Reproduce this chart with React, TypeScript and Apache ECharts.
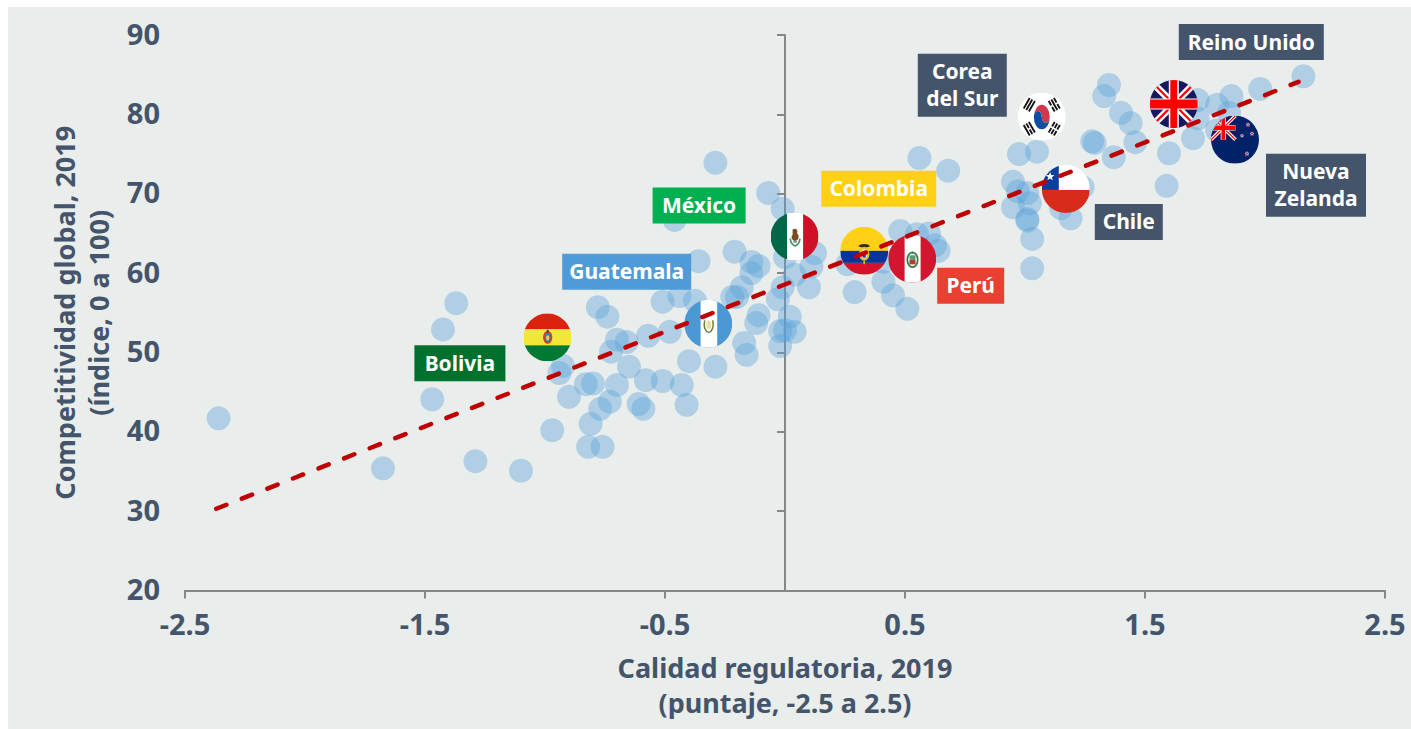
import React, { useEffect, useRef } from "react";
import * as echarts from "echarts";

const xTicks = [-2.5, -1.5, -0.5, 0.5, 1.5, 2.5];
const xTitle = "Calidad regulatoria, 2019\n(puntaje, -2.5 a 2.5)";
const yTitle = "Competitividad global, 2019\n(índice, 0 a 100)";

const countries: [number, number][] = [
  [2.16, 84.8], [1.98, 83.2], [1.86, 82.3], [1.8, 81.2], [1.72, 81.8], [1.85, 80.2], [1.35, 83.7], [1.33, 82.3],
  [1.4, 80.2], [1.44, 78.9], [1.46, 76.5], [1.28, 76.6], [1.29, 76.4], [1.37, 74.6], [1.6, 75.1], [1.59, 71.0],
  [1.7, 77.0], [1.8, 78.0], [1.72, 79.5], [0.975, 75.0], [1.05, 75.3], [0.95, 71.5], [0.97, 70.3], [1.01, 70.1],
  [1.02, 68.8], [0.95, 68.3], [1.01, 66.8], [1.01, 66.6], [1.03, 64.3], [1.03, 60.6], [1.24, 70.8], [1.19, 66.9],
  [1.15, 68.2], [-0.29, 73.9], [-0.07, 70.1], [-0.01, 68.1], [-0.46, 66.7], [0.68, 72.9], [0.56, 74.5], [-0.36, 61.5],
  [-0.21, 62.7], [-0.14, 61.4], [-0.11, 60.9], [-0.14, 60.0], [-0.18, 58.2], [-0.22, 57.0], [-0.2, 57.0], [-0.51, 56.4],
  [-0.44, 57.1], [-0.375, 56.5], [-0.57, 52.1], [-0.48, 52.6], [-0.11, 54.7], [-0.12, 53.7], [-0.03, 56.7], [-0.01, 58.2],
  [0.04, 59.8], [0.1, 58.2], [0.11, 60.8], [0.125, 62.5], [0.0, 62.0], [0.02, 54.5], [0.04, 52.6], [0.0, 52.8],
  [-0.02, 52.7], [-0.02, 50.8], [-0.17, 51.2], [-0.16, 49.7], [-0.4, 48.9], [-0.29, 48.2], [-0.58, 46.5], [-0.51, 46.4],
  [-0.43, 45.9], [0.26, 61.1], [0.29, 57.6], [0.41, 58.9], [0.45, 57.2], [0.51, 55.5], [0.48, 65.3], [0.55, 64.9],
  [0.6, 65.0], [0.625, 63.5], [0.64, 62.8], [0.41, 61.4], [-1.37, 56.2], [-1.425, 52.9], [-1.47, 44.1], [-1.29, 36.3],
  [-1.1, 35.1], [-0.97, 40.2], [-0.925, 48.3], [-0.94, 47.4], [-0.78, 55.7], [-0.74, 54.5], [-0.7, 51.6], [-0.66, 51.3],
  [-0.725, 50.1], [-0.65, 48.2], [-0.7, 45.9], [-0.83, 46.0], [-0.8, 46.1], [-0.9, 44.4], [-0.73, 43.8], [-0.77, 42.9],
  [-0.61, 43.5], [-0.59, 42.9], [-0.41, 43.4], [-0.81, 41.0], [-0.82, 38.1], [-0.76, 38.1], [-2.36, 41.7], [-1.675, 35.4],
];

const trend: [number, number][] = [[-2.37, 30.3], [2.14, 84.1]];

const highlightNames = ["Bolivia", "Guatemala", "México", "Colombia", "Perú", "Chile", "Corea\ndel Sur", "Reino Unido", "Nueva\nZelanda"];
const highlightX = [-0.99, -0.32, 0.04, 0.33, 0.53, 1.17, 1.07, 1.62, 1.875];
const highlightY = [51.9, 53.6, 64.6, 62.8, 61.8, 70.6, 79.7, 81.3, 76.8];

const INK = "#44546A";
const FONT = '"Noto Sans"';

// label boxes relative to each flag's centre: dx, dy, width, height, fill
const boxes: [number, number, number, number, string][] = [
  [-133, 8, 91, 36, "#00702F"],
  [-146, -70, 129, 36, "#4F9BD9"],
  [-142, -49, 93, 36, "#00B050"],
  [-43, -80, 115, 36, "#FFD016"],
  [25, 9, 67, 36, "#E84031"],
  [29, 15, 68, 36, INK],
  [-124, -63, 89, 63, INK],
  [5, -80, 145, 36, INK],
  [31, 14, 100, 63, INK],
];

const svgFlag = (inner: string) =>
  "image://data:image/svg+xml;charset=utf-8," +
  encodeURIComponent(
    `<svg xmlns="http://www.w3.org/2000/svg" width="48" height="48" viewBox="0 0 48 48"><defs><clipPath id="c"><circle cx="24" cy="24" r="24"/></clipPath></defs><g clip-path="url(#c)">${inner}</g></svg>`
  );

const jackFlag = (w: number, h: number) => {
  const cx = w / 2, cy = h / 2, k = w / 48;
  return `<rect width="${w}" height="${h}" fill="#15195F"/>` +
    `<path d="M0 0L${w} ${h}M${w} 0L0 ${h}" stroke="#fff" stroke-width="${7 * k}"/>` +
    `<path d="M0 0L${w} ${h}M${w} 0L0 ${h}" stroke="#f00" stroke-width="${2.2 * k}"/>` +
    `<path d="M${cx} 0V${h}" stroke="#fff" stroke-width="${10 * k}"/><path d="M0 ${cy}H${w}" stroke="#fff" stroke-width="${11 * k}"/>` +
    `<path d="M${cx} 0V${h}" stroke="#f00" stroke-width="${7 * k}"/><path d="M0 ${cy}H${w}" stroke="#f00" stroke-width="${9 * k}"/>`;
};

const star = (x: number, y: number, r: number, fill: string, stroke = "none") => {
  const p: string[] = [];
  for (let i = 0; i < 10; i++) {
    const rad = i % 2 ? r * 0.42 : r;
    const ang = -Math.PI / 2 + (i * Math.PI) / 5;
    p.push(`${(x + rad * Math.cos(ang)).toFixed(2)},${(y + rad * Math.sin(ang)).toFixed(2)}`);
  }
  return `<polygon points="${p.join(" ")}" fill="${fill}" stroke="${stroke}" stroke-width="0.5"/>`;
};

const trigram = (x: number, y: number, rot: number, gaps: boolean[]) =>
  `<g transform="translate(${x} ${y}) rotate(${rot})">` +
  gaps.map((g, i) => {
    const yy = -3 + i * 3;
    return g
      ? `<rect x="-6" y="${yy - 0.9}" width="5.2" height="1.8"/><rect x="0.8" y="${yy - 0.9}" width="5.2" height="1.8"/>`
      : `<rect x="-6" y="${yy - 0.9}" width="12" height="1.8"/>`;
  }).join("") + `</g>`;

const flags = [
  // Bolivia
  svgFlag(`<rect width="48" height="16" fill="#D9230F"/><rect y="16" width="48" height="16" fill="#F3E63B"/><rect y="32" width="48" height="16" fill="#007A33"/><ellipse cx="24.3" cy="24" rx="4.6" ry="6.4" fill="#C9432B"/><ellipse cx="24.3" cy="24" rx="3" ry="4.6" fill="#3B7FB8"/><ellipse cx="24.3" cy="24.5" rx="1.6" ry="2.6" fill="#E8D36A"/><path d="M24.3 16.5v3" stroke="#3A4A2C" stroke-width="2"/>`),
  // Guatemala
  svgFlag(`<rect width="48" height="48" fill="#4B98D3"/><rect x="16.4" width="16.6" height="48" fill="#fff"/><path d="M20.5 20.5C19 27 21 31.5 24.5 32.5C28 31.5 30 27 28.5 20.5" fill="none" stroke="#66803A" stroke-width="1.5"/><ellipse cx="24.5" cy="24.8" rx="2.4" ry="4.2" fill="#E9E0A0"/>`),
  // México
  svgFlag(`<rect width="16.5" height="48" fill="#006847"/><rect x="16.5" width="16" height="48" fill="#fff"/><rect x="32.5" width="15.5" height="48" fill="#CE1126"/><path d="M22 17C26 14.5 27.5 18 26.5 21C29.5 23 28 28 24.5 28.5C21 28 20 24 22 22.5z" fill="#7A4A22"/><path d="M19.6 26C20 31 23 33.3 24.5 33.3C26 33.3 29 31 29.4 26" fill="none" stroke="#4E8B57" stroke-width="1.6"/><rect x="22.7" y="28.5" width="3.6" height="1.6" fill="#5A8FB0"/>`),
  // Flag drawn for Colombia in the source
  svgFlag(`<rect width="48" height="24" fill="#FFD016"/><rect y="24" width="48" height="12" fill="#03369C"/><rect y="36" width="48" height="12" fill="#D6112C"/><path d="M18 19.5C20.5 16.5 27.5 16.5 30 19.5L24 21.5z" fill="#2C2A1C"/><ellipse cx="24" cy="27" rx="5.2" ry="7" fill="#E7C21E"/><ellipse cx="24" cy="27" rx="3" ry="4.8" fill="#E6EEF4"/><rect x="22.4" y="27" width="3.2" height="3.8" fill="#1B4FA0"/><path d="M24 34v3.5" stroke="#D9B81C" stroke-width="1.6"/>`),
  // Perú
  svgFlag(`<rect width="48" height="48" fill="#D2162F"/><rect x="16.4" width="16" height="48" fill="#fff"/><ellipse cx="24.3" cy="25" rx="5.2" ry="7.4" fill="none" stroke="#2F7B45" stroke-width="1.7"/><rect x="21.3" y="20.5" width="6" height="4.5" fill="#5A9A78"/><rect x="21.3" y="25" width="6" height="4.6" fill="#B83A2E"/><path d="M24.3 17v1.8" stroke="#2F7B45" stroke-width="1.7"/>`),
  // Chile
  svgFlag(`<rect width="48" height="25" fill="#fff"/><rect y="25" width="48" height="23" fill="#D92B1C"/><rect width="17" height="25" fill="#0A3FA0"/>${star(8.3, 11.7, 4.6, "#fff")}`),
  // Corea del Sur
  svgFlag(`<rect width="48" height="48" fill="#fff"/><g transform="translate(24 24) scale(0.95 1.45) translate(-24 -24)"><path d="M15.6 24.2A8.4 8.4 0 0 1 32.4 24.2A4.2 4.2 0 0 1 24 24.2A4.2 4.2 0 0 0 15.6 24.2z" fill="#CD3A4A"/><path d="M15.6 24.2A8.4 8.4 0 0 0 32.4 24.2A4.2 4.2 0 0 1 24 24.2A4.2 4.2 0 0 0 15.6 24.2z" fill="#0B4EA2"/></g><g fill="#111">${trigram(11.5, 12, -60, [false, false, false])}${trigram(36.5, 12, 60, [true, false, true])}${trigram(11.5, 36, 60, [false, true, false])}${trigram(36.5, 36, -60, [true, true, true])}</g>`),
  // Reino Unido
  svgFlag(jackFlag(48, 48)),
  // Nueva Zelanda
  svgFlag(`<rect width="48" height="48" fill="#012169"/>${jackFlag(24.5, 24)}${star(37, 9, 2, "#D2162F", "#fff")}${star(41, 18, 2, "#D2162F", "#fff")}${star(31, 20, 1.8, "#D2162F", "#fff")}${star(36, 38, 2.2, "#D2162F", "#fff")}`),
];

export default function App() {
  const ref = useRef<HTMLDivElement>(null);
  useEffect(() => {
    const chart = echarts.init(ref.current!, null, { renderer: "svg" });
    const axisLineStyle = { color: "#868686", width: 2 };
    chart.setOption({
      animation: false,
      backgroundColor: "#E9EDEC",
      grid: { left: 177, right: 26, top: 28, height: 555.5 },
      xAxis: {
        type: "value",
        min: -2.5,
        max: 2.5,
        interval: 0.5,
        splitLine: { show: false },
        axisLine: { onZero: false, lineStyle: axisLineStyle },
        axisTick: { show: true, length: 8, customValues: xTicks, lineStyle: axisLineStyle },
        axisLabel: {
          customValues: xTicks,
          formatter: (v: number) => v.toFixed(1),
          color: INK,
          fontFamily: FONT,
          fontWeight: "bold",
          fontSize: 29,
          margin: 18,
        },
        name: xTitle,
        nameLocation: "middle",
        nameGap: 59,
        nameTextStyle: { color: INK, fontFamily: FONT, fontWeight: "bold", fontSize: 27, lineHeight: 35 },
      },
      yAxis: [
        {
          type: "value",
          min: 20,
          max: 90,
          interval: 10,
          splitLine: { show: false },
          axisLine: { show: false, onZero: false },
          axisTick: { show: false },
          axisLabel: {
            formatter: "{t|{value}}",
            margin: 25,
            rich: {
              t: { color: INK, fontFamily: FONT, fontWeight: "bold", fontSize: 29, padding: [0, 0, 4, 0] },
            },
          },
          name: yTitle,
          nameLocation: "middle",
          nameRotate: 90,
          nameGap: 69,
          nameTextStyle: { color: INK, fontFamily: FONT, fontWeight: "bold", fontSize: 27, lineHeight: 34 },
        },
        {
          type: "value",
          min: 20,
          max: 90,
          interval: 10,
          position: "left",
          splitLine: { show: false },
          axisLine: { show: true, onZero: true, lineStyle: axisLineStyle },
          axisTick: { show: true, length: 8, lineStyle: axisLineStyle },
          axisLabel: { show: false },
        },
      ],
      series: [
        {
          type: "scatter",
          data: countries,
          symbolSize: 24,
          z: 2,
          silent: true,
          itemStyle: { color: "rgba(91,163,217,0.5)" },
        },
        {
          type: "scatter",
          data: highlightNames.map((_, i) => ({
            value: [highlightX[i], highlightY[i]],
            symbol: flags[i],
            symbolSize: 48,
          })),
          z: 3,
          silent: true,
          itemStyle: { opacity: 1 },
        },
        {
          type: "line",
          data: trend,
          showSymbol: false,
          z: 4,
          silent: true,
          lineStyle: { color: "#C00000", width: 4.5, type: [11, 16.5], cap: "round" },
        },
        {
          type: "custom",
          z: 5,
          silent: true,
          data: highlightNames.map((n, i) => [highlightX[i], highlightY[i]]),
          renderItem: (params: any, api: any) => {
            const c = api.coord([api.value(0), api.value(1)]);
            const [dx, dy, w, h, fill] = boxes[params.dataIndex];
            return {
              type: "group",
              x: c[0] + dx,
              y: c[1] + dy,
              children: [
                { type: "rect", shape: { x: 0, y: 0, width: w, height: h }, style: { fill } },
                {
                  type: "text",
                  style: {
                    text: highlightNames[params.dataIndex],
                    x: w / 2,
                    y: h / 2 - 0.5,
                    align: "center",
                    verticalAlign: "middle",
                    fill: "#fff",
                    font: `bold 21px ${FONT}`,
                    lineHeight: 27,
                  },
                },
              ],
            };
          },
        },
      ],
    });
    return () => chart.dispose();
  }, []);
  return (
    <div style={{ position: "absolute", left: 0, top: 0, width: 1411, height: 729, overflow: "hidden", background: "#fff" }}>
      <div ref={ref} style={{ position: "absolute", left: 8, top: 7, width: 1403, height: 722 }} />
    </div>
  );
}
